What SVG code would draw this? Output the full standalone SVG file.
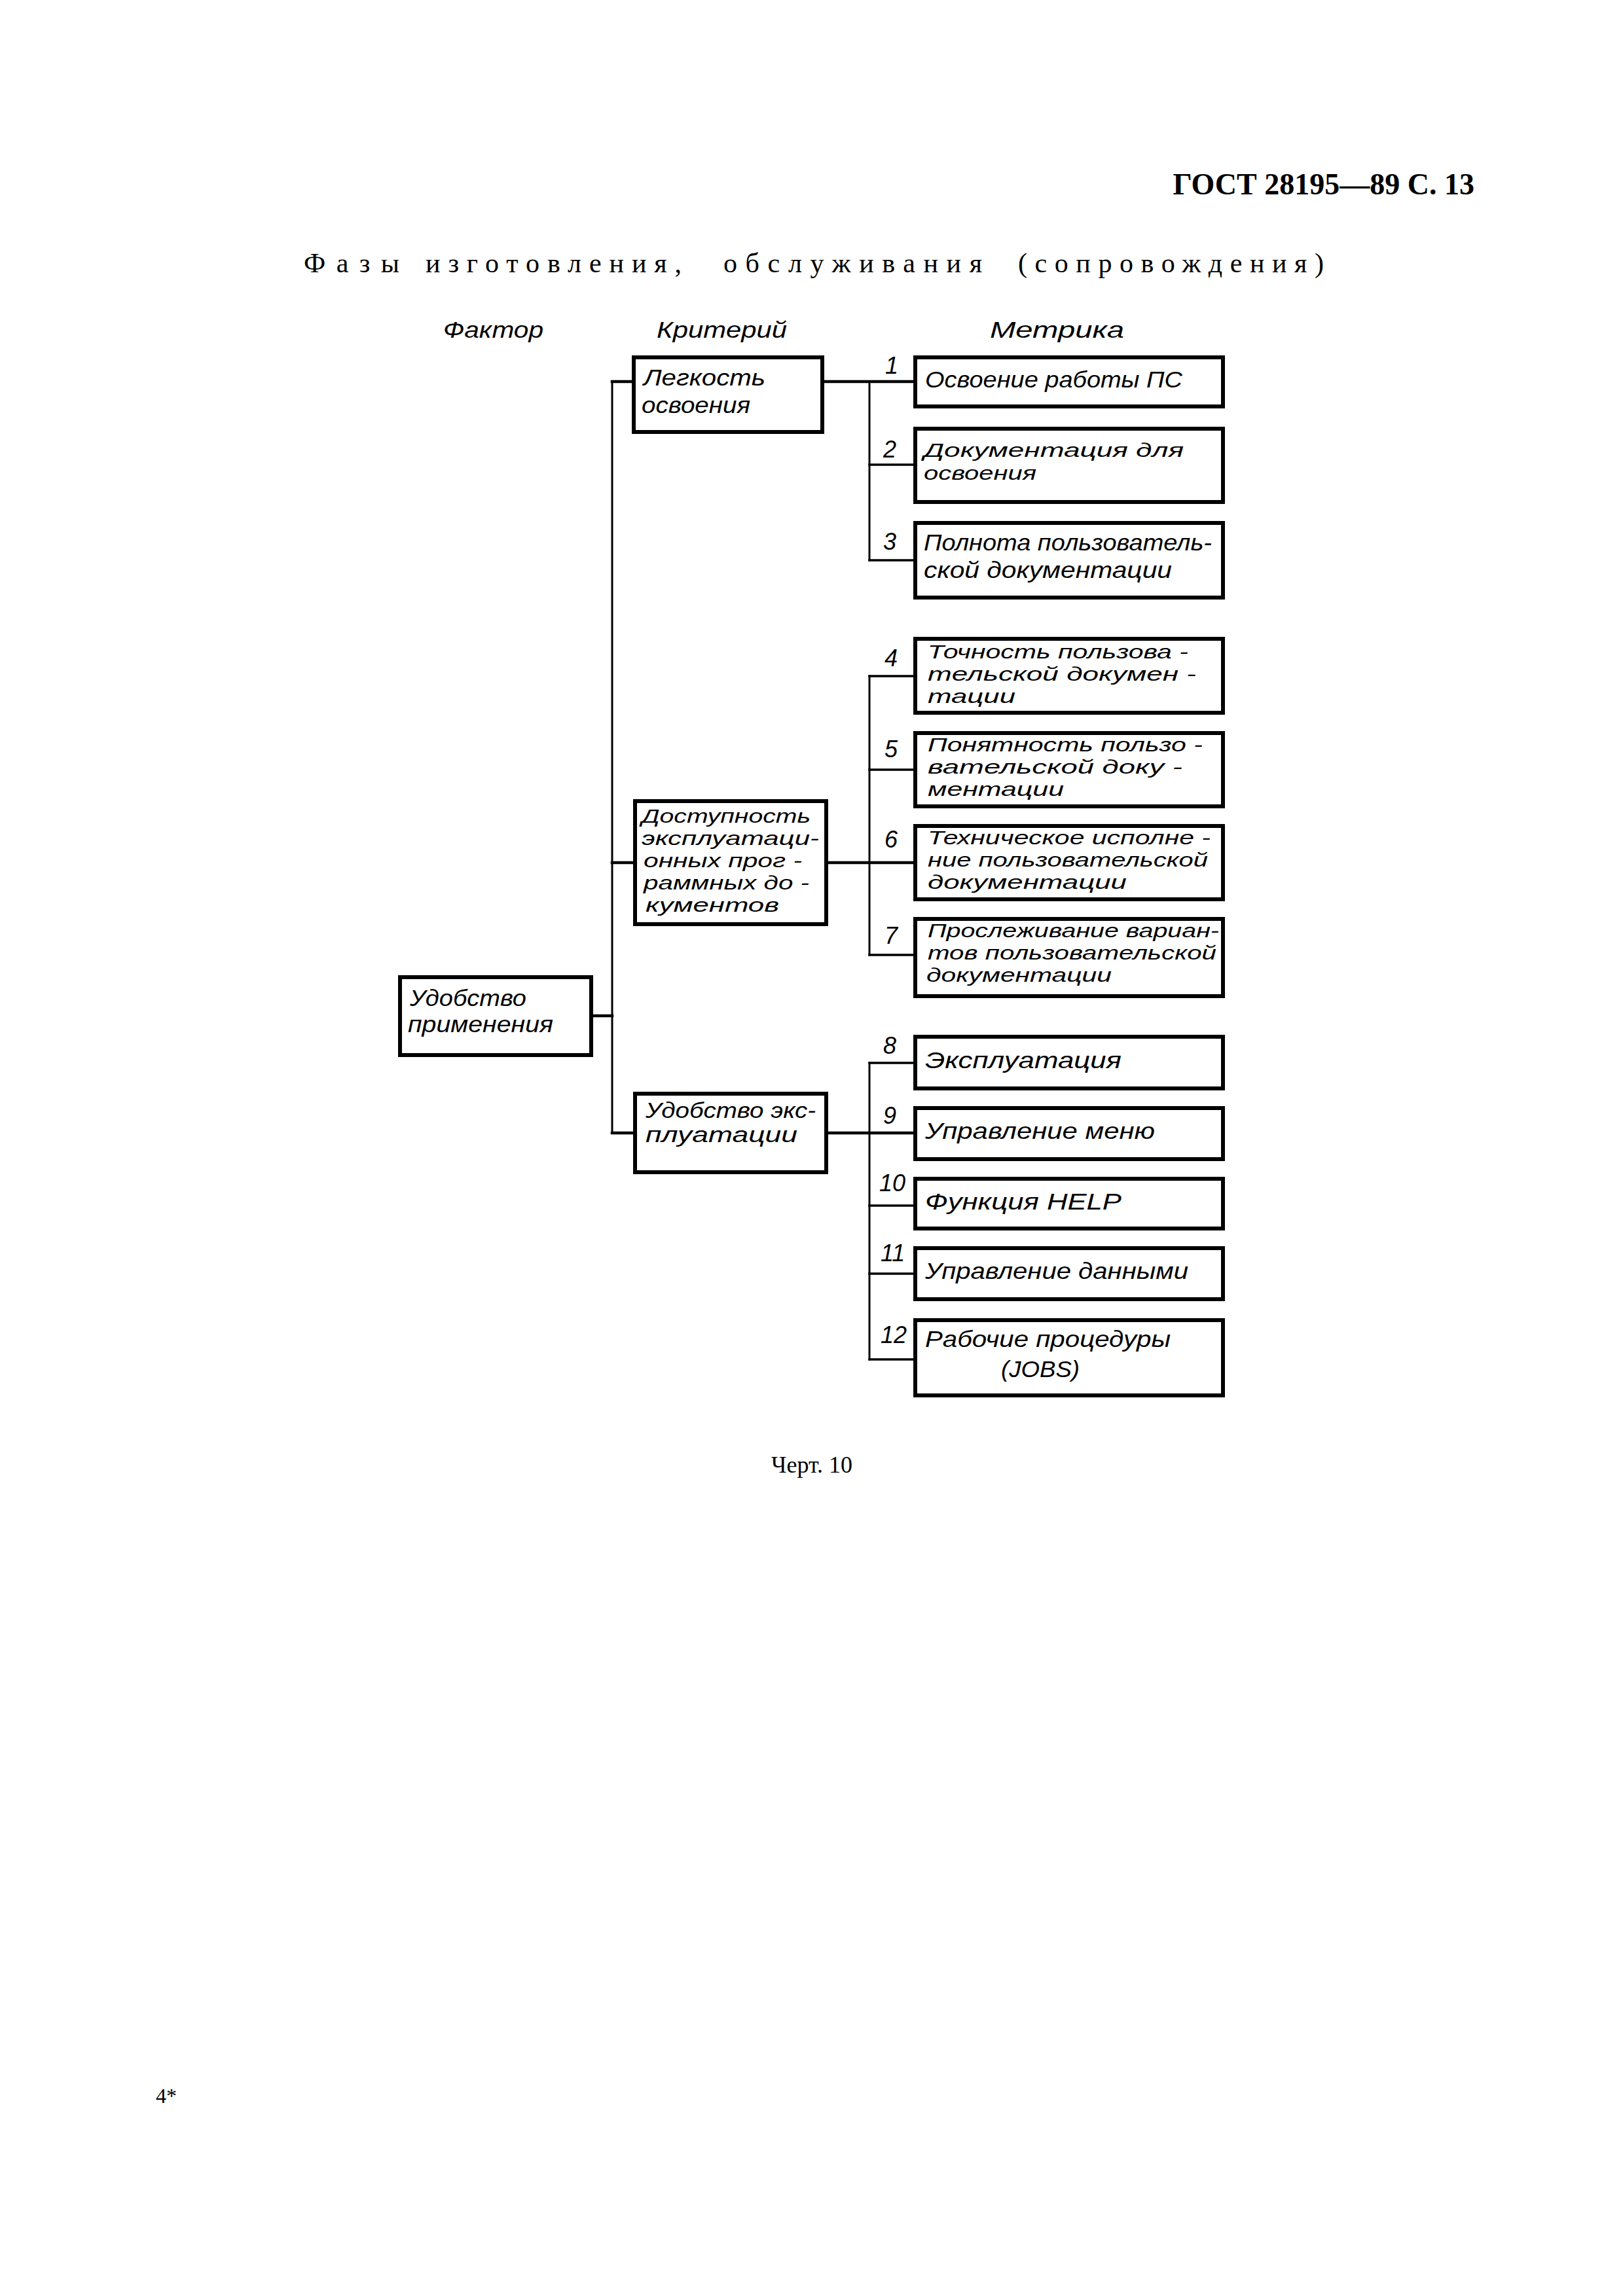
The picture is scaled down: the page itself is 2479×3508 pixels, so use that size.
<svg xmlns="http://www.w3.org/2000/svg" width="2479" height="3508" viewBox="0 0 2479 3508">
<style>
.box{fill:#fff;stroke:#000;stroke-width:6}
.t{font-family:"Liberation Sans","DejaVu Sans",sans-serif;font-style:italic;font-size:35px;fill:#000}
.s{font-size:30px}
.m{font-size:33px}
.n{font-family:"Liberation Sans","DejaVu Sans",sans-serif;font-style:italic;font-size:36px;fill:#000}
.h{font-family:"Liberation Serif","DejaVu Serif",serif;fill:#000}
.sub{font-size:42px}
.c{stroke:#000;fill:none;stroke-linecap:square}
.main{stroke-width:4.5}
.bus{stroke-width:3}
.br{stroke-width:3.5}
</style>
<rect width="2479" height="3508" fill="#fff"/>
<g id="page-header">
<text class="h" x="2252" y="297" font-size="46" font-weight="bold" text-anchor="end">ГОСТ 28195—89 С. 13</text>
<text class="h sub" y="416"><tspan x="464" textLength="146" lengthAdjust="spacing">Фазы</tspan></text>
<text class="h sub" y="416"><tspan x="650" textLength="391" lengthAdjust="spacing">изготовления,</tspan></text>
<text class="h sub" y="416"><tspan x="1105" textLength="395" lengthAdjust="spacing">обслуживания</tspan></text>
<text class="h sub" y="416"><tspan x="1555" textLength="467" lengthAdjust="spacing">(сопровождения)</tspan></text>
</g>
<g id="column-headers">
<text class="t" x="677" y="516" textLength="153" lengthAdjust="spacingAndGlyphs">Фактор</text>
<text class="t" x="1003" y="516" textLength="199" lengthAdjust="spacingAndGlyphs">Критерий</text>
<text class="t" x="1512" y="516" textLength="205" lengthAdjust="spacingAndGlyphs">Метрика</text>
</g>
<g id="connectors">
<line class="c main" x1="903" y1="1552" x2="935" y2="1552"/>
<line class="c bus" x1="935" y1="583" x2="935" y2="1731"/>
<line class="c main" x1="935" y1="583" x2="968" y2="583"/>
<line class="c main" x1="935" y1="1318" x2="970" y2="1318"/>
<line class="c main" x1="935" y1="1731" x2="970" y2="1731"/>
<line class="c main" x1="1256" y1="583" x2="1398" y2="583"/>
<line class="c main" x1="1262" y1="1318" x2="1398" y2="1318"/>
<line class="c main" x1="1262" y1="1731" x2="1398" y2="1731"/>
<line class="c bus" x1="1328" y1="583" x2="1328" y2="856"/>
<line class="c bus" x1="1328" y1="1033" x2="1328" y2="1459"/>
<line class="c bus" x1="1328" y1="1624" x2="1328" y2="2077"/>
<line class="c br" x1="1328" y1="710" x2="1398" y2="710"/>
<line class="c br" x1="1328" y1="856" x2="1398" y2="856"/>
<line class="c br" x1="1328" y1="1033" x2="1398" y2="1033"/>
<line class="c br" x1="1328" y1="1176" x2="1398" y2="1176"/>
<line class="c br" x1="1328" y1="1459" x2="1398" y2="1459"/>
<line class="c br" x1="1328" y1="1624" x2="1398" y2="1624"/>
<line class="c br" x1="1328" y1="1842" x2="1398" y2="1842"/>
<line class="c br" x1="1328" y1="1946" x2="1398" y2="1946"/>
<line class="c br" x1="1328" y1="2077" x2="1398" y2="2077"/>
</g>
<g id="connector-labels">
<text class="n" x="1352" y="571">1</text>
<text class="n" x="1349" y="699">2</text>
<text class="n" x="1349" y="840">3</text>
<text class="n" x="1351" y="1018">4</text>
<text class="n" x="1351" y="1157">5</text>
<text class="n" x="1351" y="1295">6</text>
<text class="n" x="1351" y="1442">7</text>
<text class="n" x="1349" y="1610">8</text>
<text class="n" x="1349" y="1717">9</text>
<text class="n" x="1343" y="1820">10</text>
<text class="n" x="1345" y="1927">11</text>
<text class="n" x="1345" y="2052">12</text>
</g>
<g id="factor">
<rect class="box" x="611" y="1493" width="292" height="119"/>
<text class="t" x="626" y="1537" textLength="178" lengthAdjust="spacingAndGlyphs">Удобство</text>
<text class="t" x="623" y="1577" textLength="222" lengthAdjust="spacingAndGlyphs">применения</text>
</g>
<g id="crit-1">
<rect class="box" x="968" y="546" width="288" height="114"/>
<text class="t" x="983" y="589" textLength="186" lengthAdjust="spacingAndGlyphs">Легкость</text>
<text class="t" x="980" y="631" textLength="166" lengthAdjust="spacingAndGlyphs">освоения</text>
</g>
<g id="crit-2">
<rect class="box" x="970" y="1224" width="292" height="188"/>
<text class="t s" x="980" y="1257" textLength="258" lengthAdjust="spacingAndGlyphs">Доступность</text>
<text class="t s" x="980" y="1291" textLength="271" lengthAdjust="spacingAndGlyphs">эксплуатаци-</text>
<text class="t s" x="983" y="1325" textLength="242" lengthAdjust="spacingAndGlyphs">онных прог -</text>
<text class="t s" x="983" y="1359" textLength="253" lengthAdjust="spacingAndGlyphs">раммных до -</text>
<text class="t s" x="986" y="1393" textLength="204" lengthAdjust="spacingAndGlyphs">кументов</text>
</g>
<g id="crit-3">
<rect class="box" x="970" y="1671" width="292" height="120"/>
<text class="t m" x="986" y="1708" textLength="260" lengthAdjust="spacingAndGlyphs">Удобство экс-</text>
<text class="t m" x="986" y="1745" textLength="232" lengthAdjust="spacingAndGlyphs">плуатации</text>
</g>
<g id="metric-1">
<rect class="box" x="1398" y="546" width="470" height="75"/>
<text class="t" x="1413" y="592" textLength="393" lengthAdjust="spacingAndGlyphs">Освоение работы ПС</text>
</g>
<g id="metric-2">
<rect class="box" x="1398" y="655" width="470" height="112"/>
<text class="t s" x="1411" y="698" textLength="397" lengthAdjust="spacingAndGlyphs">Документация для</text>
<text class="t s" x="1411" y="733" textLength="172" lengthAdjust="spacingAndGlyphs">освоения</text>
</g>
<g id="metric-3">
<rect class="box" x="1398" y="799" width="470" height="114"/>
<text class="t" x="1411" y="841" textLength="440" lengthAdjust="spacingAndGlyphs">Полнота пользователь-</text>
<text class="t" x="1411" y="883" textLength="379" lengthAdjust="spacingAndGlyphs">ской документации</text>
</g>
<g id="metric-4">
<rect class="box" x="1398" y="976" width="470" height="113"/>
<text class="t s" x="1417" y="1006" textLength="398" lengthAdjust="spacingAndGlyphs">Точность пользова -</text>
<text class="t s" x="1417" y="1040" textLength="410" lengthAdjust="spacingAndGlyphs">тельской докумен -</text>
<text class="t s" x="1417" y="1074" textLength="134" lengthAdjust="spacingAndGlyphs">тации</text>
</g>
<g id="metric-5">
<rect class="box" x="1398" y="1120" width="470" height="112"/>
<text class="t s" x="1417" y="1148" textLength="420" lengthAdjust="spacingAndGlyphs">Понятность пользо -</text>
<text class="t s" x="1417" y="1182" textLength="389" lengthAdjust="spacingAndGlyphs">вательской доку -</text>
<text class="t s" x="1417" y="1216" textLength="208" lengthAdjust="spacingAndGlyphs">ментации</text>
</g>
<g id="metric-6">
<rect class="box" x="1398" y="1262" width="470" height="112"/>
<text class="t s" x="1417" y="1290" textLength="432" lengthAdjust="spacingAndGlyphs">Техническое исполне -</text>
<text class="t s" x="1417" y="1324" textLength="428" lengthAdjust="spacingAndGlyphs">ние пользовательской</text>
<text class="t s" x="1417" y="1358" textLength="304" lengthAdjust="spacingAndGlyphs">документации</text>
</g>
<g id="metric-7">
<rect class="box" x="1398" y="1404" width="470" height="118"/>
<text class="t s" x="1417" y="1432" textLength="445" lengthAdjust="spacingAndGlyphs">Прослеживание вариан-</text>
<text class="t s" x="1417" y="1466" textLength="441" lengthAdjust="spacingAndGlyphs">тов пользовательской</text>
<text class="t s" x="1415" y="1500" textLength="283" lengthAdjust="spacingAndGlyphs">документации</text>
</g>
<g id="metric-8">
<rect class="box" x="1398" y="1584" width="470" height="79"/>
<text class="t" x="1413" y="1632" textLength="300" lengthAdjust="spacingAndGlyphs">Эксплуатация</text>
</g>
<g id="metric-9">
<rect class="box" x="1398" y="1693" width="470" height="78"/>
<text class="t" x="1413" y="1740" textLength="351" lengthAdjust="spacingAndGlyphs">Управление меню</text>
</g>
<g id="metric-10">
<rect class="box" x="1398" y="1801" width="470" height="76"/>
<text class="t" x="1413" y="1848" textLength="300" lengthAdjust="spacingAndGlyphs">Функция HELP</text>
</g>
<g id="metric-11">
<rect class="box" x="1398" y="1907" width="470" height="78"/>
<text class="t" x="1413" y="1954" textLength="402" lengthAdjust="spacingAndGlyphs">Управление данными</text>
</g>
<g id="metric-12">
<rect class="box" x="1398" y="2017" width="470" height="115"/>
<text class="t" x="1413" y="2058" textLength="375" lengthAdjust="spacingAndGlyphs">Рабочие процедуры</text>
<text class="t" x="1529" y="2104" textLength="120" lengthAdjust="spacingAndGlyphs">(JOBS)</text>
</g>
<g id="caption">
<text class="h" x="1178" y="2250" font-size="36">Черт. 10</text>
<text class="h" x="238" y="3213" font-size="32">4*</text>
</g>
</svg>
